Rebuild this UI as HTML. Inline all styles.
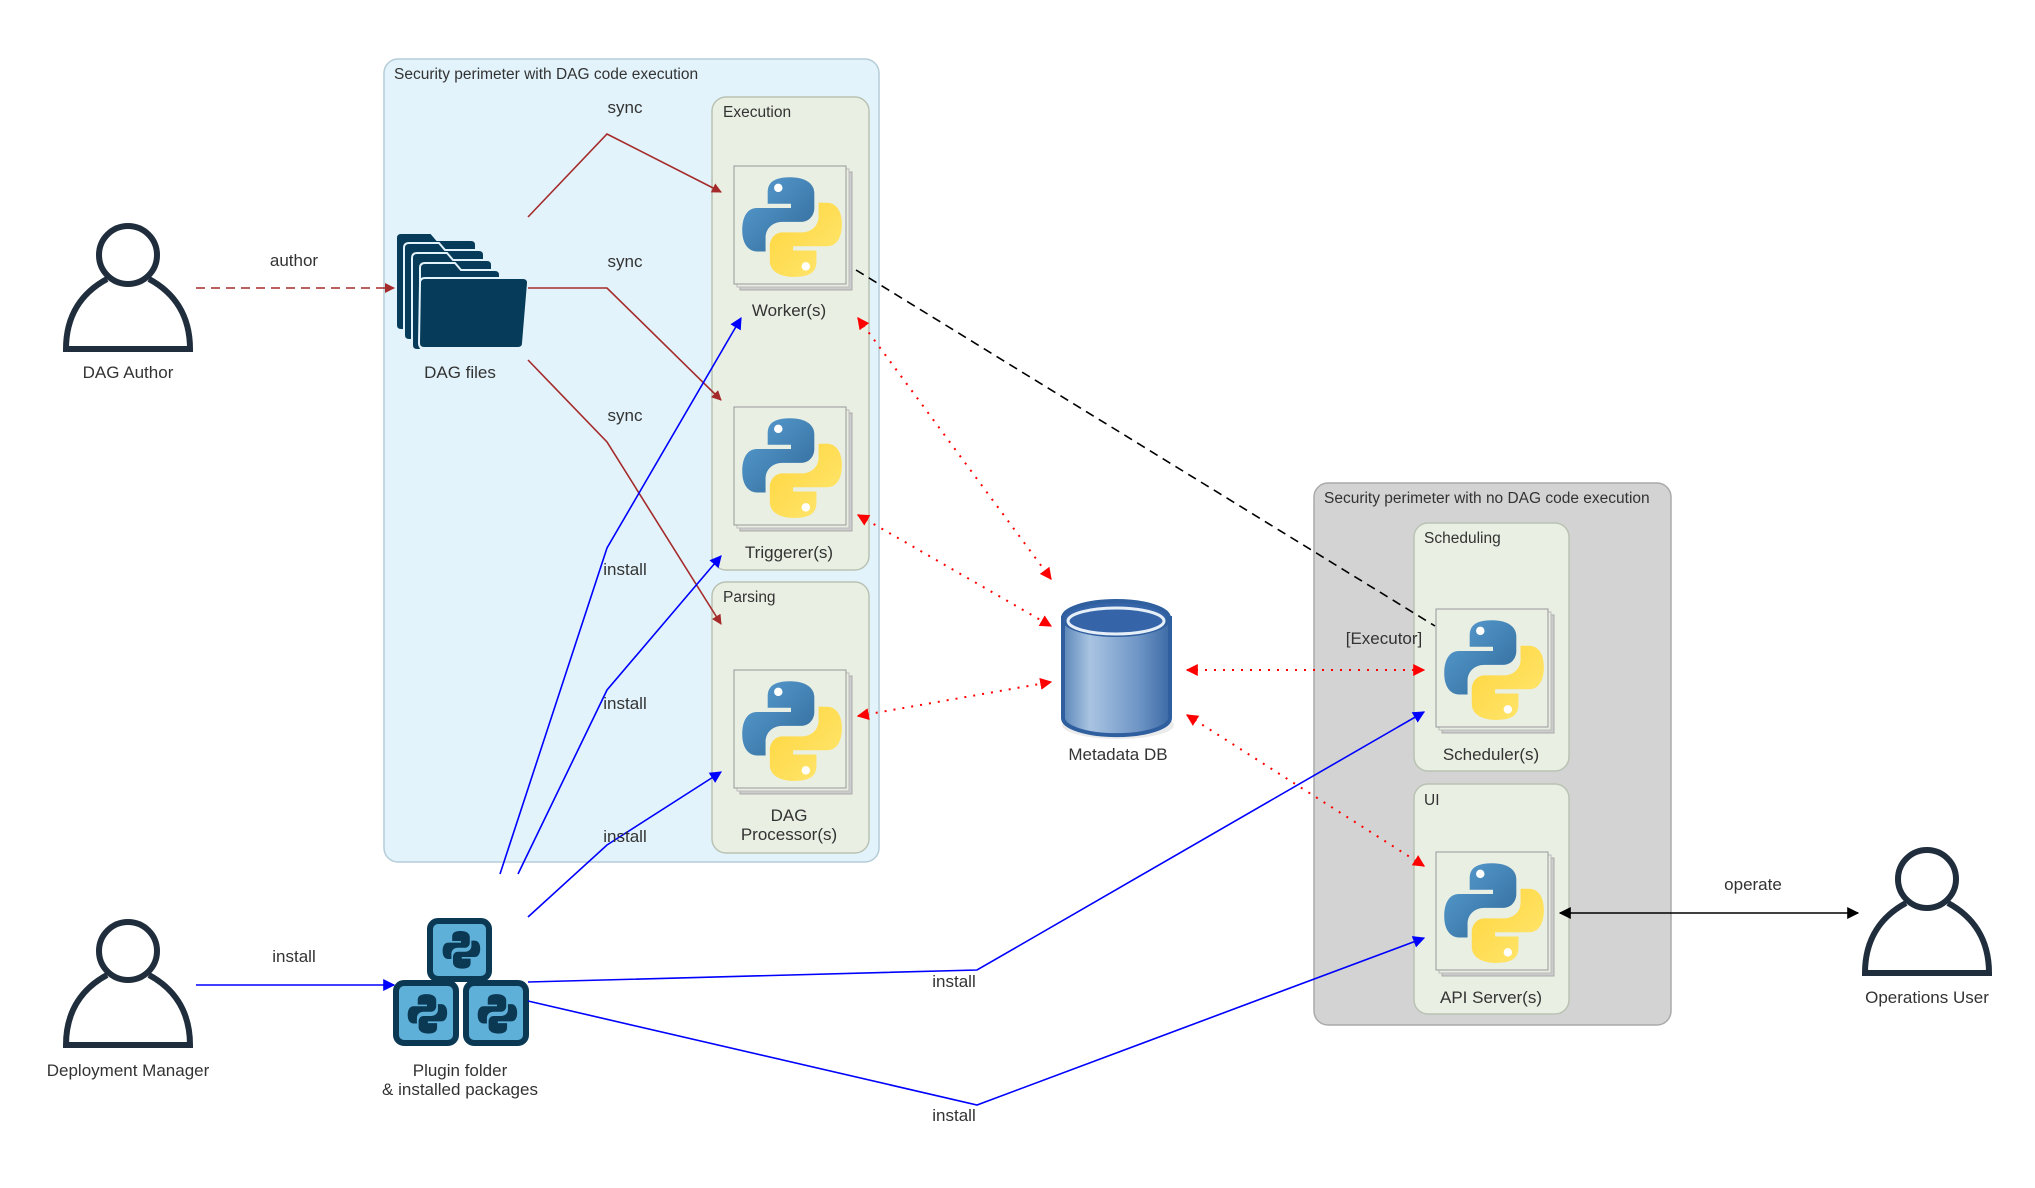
<!DOCTYPE html>
<html><head><meta charset="utf-8"><style>
html,body{margin:0;padding:0;background:#fff}
svg{display:block}
text{font-family:"Liberation Sans",sans-serif;fill:#333}
</style></head><body>
<svg width="2035" height="1188" viewBox="0 0 2035 1188" xmlns="http://www.w3.org/2000/svg">
<defs>
<marker id="ab" viewBox="0 0 10 10" refX="9" refY="5" markerWidth="10" markerHeight="10" markerUnits="userSpaceOnUse" orient="auto-start-reverse"><path d="M0,0L10,5L0,10z" fill="#a52a2a"/></marker>
<marker id="abl" viewBox="0 0 10 10" refX="9" refY="5" markerWidth="12" markerHeight="12" markerUnits="userSpaceOnUse" orient="auto-start-reverse"><path d="M0,0L10,5L0,10z" fill="#0000ff"/></marker>
<marker id="ar" viewBox="0 0 10 10" refX="9" refY="5" markerWidth="12" markerHeight="12" markerUnits="userSpaceOnUse" orient="auto-start-reverse"><path d="M0,0L10,5L0,10z" fill="#ff0000"/></marker>
<marker id="ak" viewBox="0 0 10 10" refX="9" refY="5" markerWidth="12" markerHeight="12" markerUnits="userSpaceOnUse" orient="auto-start-reverse"><path d="M0,0L10,5L0,10z" fill="#000"/></marker>
<linearGradient id="pb" x1="0" y1="0" x2="1" y2="1"><stop offset="0" stop-color="#5a9fd4"/><stop offset="1" stop-color="#306998"/></linearGradient>
<linearGradient id="py" x1="1" y1="1" x2="0" y2="0"><stop offset="0" stop-color="#ffd43b"/><stop offset="1" stop-color="#ffe873"/></linearGradient>
<linearGradient id="cyl" x1="0" y1="0" x2="1" y2="0"><stop offset="0" stop-color="#5b86b8"/><stop offset="0.25" stop-color="#a9c4e2"/><stop offset="0.7" stop-color="#6f96c6"/><stop offset="1" stop-color="#3d6aa6"/></linearGradient>
<g id="logo">
<path d="M49,5C30,5 28,13 28,20L28,30L50,30L50,34L18,34C9,34 4,42 4,55C4,68 10,75 18,75L26,75L26,62C26,53 33,47 42,47L60,47C67,47 72,41 72,34L72,20C72,12 65,5 49,5Z" fill="url(#pb)"/>
<path d="M49,5C30,5 28,13 28,20L28,30L50,30L50,34L18,34C9,34 4,42 4,55C4,68 10,75 18,75L26,75L26,62C26,53 33,47 42,47L60,47C67,47 72,41 72,34L72,20C72,12 65,5 49,5Z" fill="url(#py)" transform="rotate(180 51 52)"/>
<circle cx="38" cy="15" r="4" fill="#fff"/><circle cx="64" cy="89" r="4" fill="#fff"/>
</g>
<g id="pybox">
<rect x="6" y="6" width="112" height="118" fill="#ccc" stroke="#aaa"/>
<rect x="3" y="3" width="112" height="118" fill="#e8ede2" stroke="#bbb"/>
<rect x="0" y="0" width="112" height="118" fill="#e9efe3" stroke="#999"/>
<use href="#logo" transform="translate(4,6) scale(1.06)"/>
</g>
<g id="dlogo">
<path d="M49,5C30,5 28,13 28,20L28,30L50,30L50,34L18,34C9,34 4,42 4,55C4,68 10,75 18,75L26,75L26,62C26,53 33,47 42,47L60,47C67,47 72,41 72,34L72,20C72,12 65,5 49,5Z" fill="#0b3954"/>
<path d="M49,5C30,5 28,13 28,20L28,30L50,30L50,34L18,34C9,34 4,42 4,55C4,68 10,75 18,75L26,75L26,62C26,53 33,47 42,47L60,47C67,47 72,41 72,34L72,20C72,12 65,5 49,5Z" fill="#0b3954" transform="rotate(180 51 52)"/>
</g>
<g id="person">
<circle cx="0" cy="-34" r="29" fill="none" stroke="#1f2d3d" stroke-width="6"/>
<path d="M-21,-10C-45,3 -62,25 -62,60L62,60C62,25 45,3 21,-10" fill="none" stroke="#1f2d3d" stroke-width="6"/>
</g>
</defs>

<rect x="384" y="59" width="495" height="803" rx="14" fill="#e2f3fb" stroke="#b5ccd8" stroke-width="1.5"/>
<text x="394" y="79" font-size="15.5">Security perimeter with DAG code execution</text>
<rect x="712" y="97" width="157" height="473" rx="14" fill="#e9efe3" stroke="#b9c2b3" stroke-width="1.5"/>
<text x="723" y="117" font-size="15.5">Execution</text>
<rect x="712" y="582" width="157" height="271" rx="14" fill="#e9efe3" stroke="#b9c2b3" stroke-width="1.5"/>
<text x="723" y="602" font-size="15.5">Parsing</text>

<rect x="1314" y="483" width="357" height="542" rx="14" fill="#d3d3d3" stroke="#aaa" stroke-width="1.5"/>
<text x="1324" y="503" font-size="15.5">Security perimeter with no DAG code execution</text>
<rect x="1414" y="523" width="155" height="248" rx="14" fill="#e9efe3" stroke="#b9c2b3" stroke-width="1.5"/>
<text x="1424" y="543" font-size="15.5">Scheduling</text>
<rect x="1414" y="784" width="155" height="230" rx="14" fill="#e9efe3" stroke="#b9c2b3" stroke-width="1.5"/>
<text x="1424" y="805" font-size="15.5">UI</text>

<use href="#pybox" x="734" y="166"/>
<text x="789" y="316" font-size="17" text-anchor="middle">Worker(s)</text>
<use href="#pybox" x="734" y="407"/>
<text x="789" y="558" font-size="17" text-anchor="middle">Triggerer(s)</text>
<use href="#pybox" x="734" y="670"/>
<text x="789" y="821" font-size="17" text-anchor="middle">DAG</text>
<text x="789" y="840" font-size="17" text-anchor="middle">Processor(s)</text>
<use href="#pybox" x="1436" y="609"/>
<text x="1491" y="760" font-size="17" text-anchor="middle">Scheduler(s)</text>
<use href="#pybox" x="1436" y="852"/>
<text x="1491" y="1003" font-size="17" text-anchor="middle">API Server(s)</text>

<use href="#person" x="128" y="289"/>
<text x="128" y="378" font-size="17" text-anchor="middle">DAG Author</text>
<use href="#person" x="128" y="985"/>
<text x="128" y="1076" font-size="17" text-anchor="middle">Deployment Manager</text>
<use href="#person" x="1927" y="913"/>
<text x="1927" y="1003" font-size="17" text-anchor="middle">Operations User</text>

<g fill="#073b5a" stroke="#e2f3fb" stroke-width="2">
<path d="M396,238q0,-5 5,-5h30l6,7h34q5,0 5,5v80q0,5 -5,5h-70q-5,0 -5,-5z"/>
<path d="M404,248q0,-5 5,-5h30l6,7h34q5,0 5,5v80q0,5 -5,5h-70q-5,0 -5,-5z"/>
<path d="M412,258q0,-5 5,-5h30l6,7h34q5,0 5,5v80q0,5 -5,5h-70q-5,0 -5,-5z"/>
<path d="M420,268q0,-5 5,-5h30l6,7h34q5,0 5,5v70q0,5 -5,5h-70q-5,0 -5,-5z"/>
<path d="M420,283q0,-5 5,-5h98q5,0 5,5l-5,60q0,5 -5,5h-94q-5,0 -5,-5z"/>
</g>
<text x="460" y="378" font-size="17" text-anchor="middle">DAG files</text>

<g stroke="#0b3954" stroke-width="6">
<rect x="430" y="921" width="59" height="58" rx="8" fill="#5fb0d8"/>
<rect x="396" y="983" width="60" height="60" rx="8" fill="#5fb0d8"/>
<rect x="466" y="983" width="60" height="60" rx="8" fill="#5fb0d8"/>
</g>
<use href="#dlogo" transform="translate(441,929) scale(0.4)"/>
<use href="#dlogo" transform="translate(406,992) scale(0.42)"/>
<use href="#dlogo" transform="translate(476,992) scale(0.42)"/>
<text x="460" y="1076" font-size="17" text-anchor="middle">Plugin folder</text>
<text x="460" y="1095" font-size="17" text-anchor="middle">&amp; installed packages</text>

<ellipse cx="1118" cy="725" rx="56" ry="14" fill="#ddd" opacity="0.6"/>
<path d="M1063,618v100a53,17 0 0 0 107,0v-100z" fill="url(#cyl)" stroke="#2f5f9e" stroke-width="4"/>
<ellipse cx="1116" cy="618" rx="53" ry="17" fill="#3565a8" stroke="#2f5f9e" stroke-width="4"/>
<ellipse cx="1116" cy="621" rx="48" ry="13" fill="none" stroke="#e6eef8" stroke-width="3"/>
<text x="1118" y="760" font-size="17" text-anchor="middle">Metadata DB</text>

<g fill="none" stroke="#a52a2a" stroke-width="1.6">
<path d="M196,288H394" stroke-dasharray="9,6" marker-end="url(#ab)"/>
<path d="M528,217L607,134L721,192" marker-end="url(#ab)"/>
<path d="M528,288H607L721,400" marker-end="url(#ab)"/>
<path d="M528,360L607,442L721,624" marker-end="url(#ab)"/>
</g>
<text x="294" y="266" font-size="17" text-anchor="middle">author</text>
<text x="625" y="113" font-size="17" text-anchor="middle">sync</text>
<text x="625" y="267" font-size="17" text-anchor="middle">sync</text>
<text x="625" y="421" font-size="17" text-anchor="middle">sync</text>

<g fill="none" stroke="#0000ff" stroke-width="1.6">
<path d="M500,874L607,548L741,318" marker-end="url(#abl)"/>
<path d="M518,874L607,690L721,556" marker-end="url(#abl)"/>
<path d="M528,917L607,845L721,772" marker-end="url(#abl)"/>
<path d="M196,985H394" marker-end="url(#abl)"/>
<path d="M528,982L977,970L1424,712" marker-end="url(#abl)"/>
<path d="M528,1001L977,1105L1424,938" marker-end="url(#abl)"/>
</g>
<text x="625" y="575" font-size="17" text-anchor="middle">install</text>
<text x="625" y="709" font-size="17" text-anchor="middle">install</text>
<text x="625" y="842" font-size="17" text-anchor="middle">install</text>
<text x="294" y="962" font-size="17" text-anchor="middle">install</text>
<text x="954" y="987" font-size="17" text-anchor="middle">install</text>
<text x="954" y="1121" font-size="17" text-anchor="middle">install</text>

<path d="M856,270L1435,626" fill="none" stroke="#000" stroke-width="1.6" stroke-dasharray="9,6"/>
<text x="1384" y="644" font-size="17" text-anchor="middle">[Executor]</text>

<g fill="none" stroke="#ff0000" stroke-width="2" stroke-dasharray="2,7">
<path d="M858,318L1051,579" marker-start="url(#ar)" marker-end="url(#ar)"/>
<path d="M858,515L1051,626" marker-start="url(#ar)" marker-end="url(#ar)"/>
<path d="M858,716L1051,682" marker-start="url(#ar)" marker-end="url(#ar)"/>
<path d="M1187,670H1424" marker-start="url(#ar)" marker-end="url(#ar)"/>
<path d="M1187,715L1424,866" marker-start="url(#ar)" marker-end="url(#ar)"/>
</g>

<path d="M1560,913H1858" fill="none" stroke="#000" stroke-width="1.6" marker-start="url(#ak)" marker-end="url(#ak)"/>
<text x="1753" y="890" font-size="17" text-anchor="middle">operate</text>
</svg>
</body></html>
